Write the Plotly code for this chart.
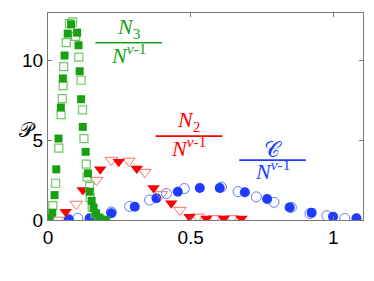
import plotly.graph_objects as go

# N3 / N^(nu-1): filled and open squares
n3_fill_x = [0.005, 0.015, 0.023, 0.029, 0.037, 0.045, 0.052, 0.058, 0.069, 0.081, 0.102, 0.107,
             0.111, 0.116, 0.122, 0.132, 0.140, 0.146, 0.153, 0.160, 0.168, 0.178, 0.190, 0.204]
n3_fill_y = [0.10, 0.46, 1.56, 3.17, 5.10, 7.04, 8.86, 10.3, 11.67, 12.25, 11.73, 10.94,
             9.31, 7.56, 5.83, 4.27, 2.92, 1.77, 1.20, 0.75, 0.40, 0.15, 0.03, 0.0]
n3_open_x = [0.005, 0.017, 0.027, 0.038, 0.046, 0.050, 0.053, 0.055, 0.064, 0.075, 0.086, 0.097,
             0.108, 0.116, 0.121, 0.126, 0.134, 0.137, 0.146, 0.148, 0.155, 0.165, 0.180]
n3_open_y = [0.10, 0.90, 2.30, 4.50, 6.60, 7.60, 8.40, 9.60, 11.1, 12.3, 12.4, 11.5,
             10.2, 8.75, 6.90, 5.10, 3.50, 2.70, 2.10, 1.40, 0.80, 0.40, 0.10]

# N2 / N^(nu-1): filled and open down-triangles
n2_fill_x = [0.002, 0.062, 0.122, 0.183, 0.248, 0.311, 0.370, 0.432, 0.496, 0.555, 0.616, 0.678]
n2_fill_y = [0.06, 0.52, 1.88, 3.17, 3.64, 3.22, 2.00, 1.05, 0.20, 0.10, 0.10, 0.10]
n2_open_x = [0.034, 0.099, 0.170, 0.222, 0.283, 0.339, 0.397, 0.462, 0.525, 0.584, 0.644]
n2_open_y = [0.00, 1.00, 2.50, 3.75, 3.70, 3.00, 1.60, 0.62, 0.20, 0.10, 0.10]

# C / N^(nu-1): filled and open circles
c_fill_x = [0.073, 0.146, 0.222, 0.304, 0.380, 0.455, 0.532, 0.602, 0.690, 0.768, 0.847, 0.924, 0.999, 1.081]
c_fill_y = [0.04, 0.11, 0.42, 0.83, 1.36, 1.77, 2.00, 2.00, 1.74, 1.31, 0.79, 0.46, 0.21, 0.11]
c_open_x = [0.104, 0.222, 0.286, 0.356, 0.415, 0.478, 0.608, 0.666, 0.730, 0.792, 0.853, 0.918, 0.977, 1.040]
c_open_y = [0.10, 0.50, 0.85, 1.25, 1.66, 1.97, 2.06, 1.78, 1.45, 1.11, 0.79, 0.41, 0.27, 0.10]

x_ticks = [0, 0.5, 1]
x_tick_text = ["0", "0.5", "1"]
y_ticks = [0, 5, 10]
y_tick_text = ["0", "5", "10"]

GREEN = "rgb(24,160,20)"
GREEN_L = "rgb(110,200,100)"
RED = "rgb(255,0,0)"
RED_L = "rgb(255,110,110)"
BLUE = "rgb(30,60,255)"
BLUE_L = "rgb(90,120,255)"

fig = go.Figure()

fig.add_trace(go.Scatter(x=c_open_x, y=c_open_y, mode="markers",
                         marker=dict(symbol="circle-open", size=10, color=BLUE_L, line=dict(width=1))))
fig.add_trace(go.Scatter(x=c_fill_x, y=c_fill_y, mode="markers",
                         marker=dict(symbol="circle", size=10, color=BLUE, line=dict(width=0))))
fig.add_trace(go.Scatter(x=n2_open_x, y=n2_open_y, mode="markers",
                         marker=dict(symbol="triangle-down-open", size=11, color=RED_L, line=dict(width=1))))
fig.add_trace(go.Scatter(x=n2_fill_x, y=n2_fill_y, mode="markers",
                         marker=dict(symbol="triangle-down", size=11, color=RED, line=dict(width=0))))
fig.add_trace(go.Scatter(x=n3_open_x, y=n3_open_y, mode="markers",
                         marker=dict(symbol="square-open", size=8, color=GREEN_L, line=dict(width=1.2))))
fig.add_trace(go.Scatter(x=n3_fill_x, y=n3_fill_y, mode="markers",
                         marker=dict(symbol="square", size=8, color=GREEN, line=dict(width=0))))

SERIF = "Liberation Serif"

def frac(xc, y_num, y_line, y_den, num, color, half):
    fig.add_annotation(x=xc, y=y_num, xref="x", yref="y", text=num, showarrow=False,
                       font=dict(family=SERIF, size=22, color=color), yanchor="middle")
    fig.add_shape(type="line", xref="x", yref="y", x0=xc - half, x1=xc + half, y0=y_line, y1=y_line,
                  line=dict(color=color, width=1.6))
    fig.add_annotation(x=xc, y=y_den, xref="x", yref="y", text="<i>N</i><sup><i>ν</i>-1</sup>",
                       showarrow=False, font=dict(family=SERIF, size=22, color=color), yanchor="middle")

frac(0.283, 12.0, 11.1, 10.4, "<i>N</i><sub>3</sub>", GREEN, 0.117)
frac(0.494, 6.2, 5.25, 4.6, "<i>N</i><sub>2</sub>", RED, 0.117)
frac(0.787, 4.4, 3.75, 3.1, "𝒞", BLUE, 0.117)

fig.add_annotation(x=-0.10, y=0.435, xref="paper", yref="paper", text="𝒫", showarrow=False,
                   font=dict(family=SERIF, size=20, color="black"))

axis_common = dict(showgrid=False, zeroline=False, showline=True, linecolor="rgb(120,120,120)",
                   linewidth=1, mirror="ticks", ticks="inside", ticklen=4, tickcolor="rgb(120,120,120)",
                   automargin=False,
                   tickfont=dict(family="Liberation Sans", size=19, color="black"))

fig.update_xaxes(range=[0, 1.104], tickvals=x_ticks, ticktext=x_tick_text, **axis_common)
fig.update_yaxes(range=[0, 12.96], tickvals=y_ticks, ticktext=y_tick_text, **axis_common)

# page body has an 8px default margin, so the figure is sized to fit the 374x281 window
fig.update_layout(width=366, height=273, showlegend=False,
                  margin=dict(l=40, r=11, t=5, b=61, pad=0),
                  plot_bgcolor="white", paper_bgcolor="white")

fig.write_html("out.html")
